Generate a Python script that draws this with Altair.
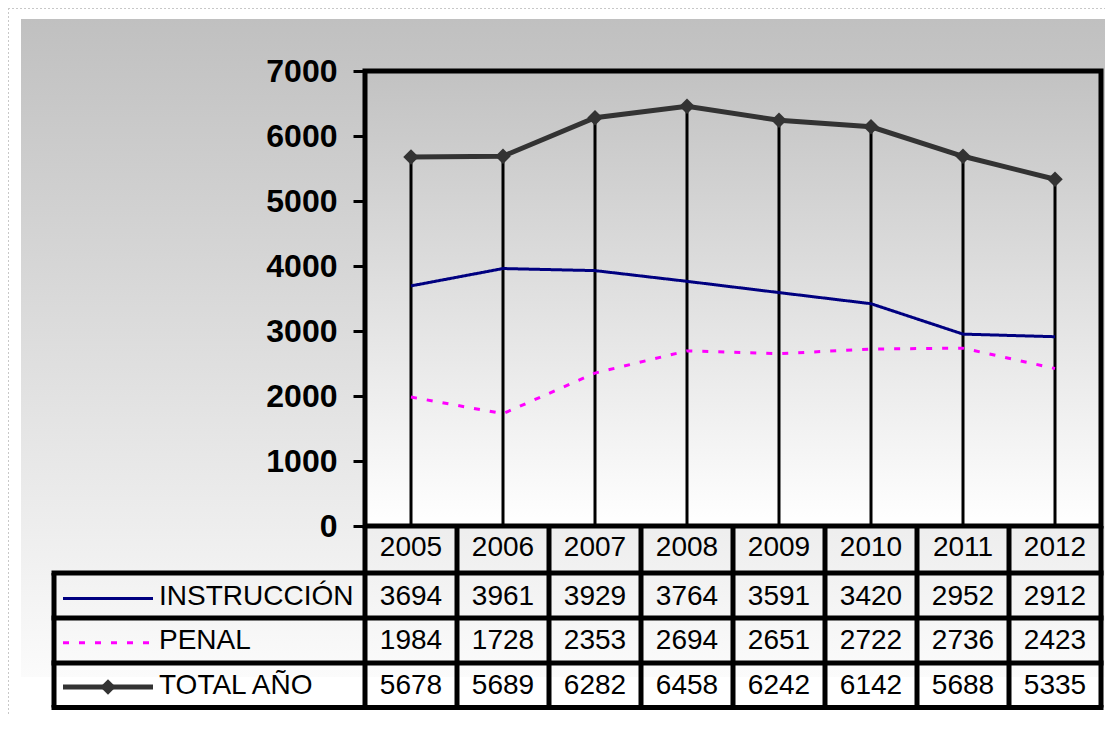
import altair as alt
import pandas as pd

# ---- data ----
years = ["2005", "2006", "2007", "2008", "2009", "2010", "2011", "2012"]
series_names = ["INSTRUCCIÓN", "PENAL", "TOTAL AÑO"]
instruccion = [3694, 3961, 3929, 3764, 3591, 3420, 2952, 2912]
penal = [1984, 1728, 2353, 2694, 2651, 2722, 2736, 2423]
total = [5678, 5689, 6282, 6458, 6242, 6142, 5688, 5335]
y_ticks = [0, 1000, 2000, 3000, 4000, 5000, 6000, 7000]

values_by_series = {"INSTRUCCIÓN": instruccion, "PENAL": penal, "TOTAL AÑO": total}
long_df = pd.DataFrame(
    [{"year": y, "series": s, "value": v}
     for s in series_names for y, v in zip(years, values_by_series[s])]
)
total_df = long_df[long_df.series == "TOTAL AÑO"]
thin_df = long_df[long_df.series != "TOTAL AÑO"]
years_df = pd.DataFrame({"year": years})
series_df = pd.DataFrame({"series": series_names})
dummy = pd.DataFrame({"a": [0]})

# ---- style ----
W, H = 736, 455
FONT = "Liberation Sans"
NAVY, MAGENTA, DARK = "#000080", "#ff00ff", "#333333"

xs = alt.Scale(type="point", domain=years, padding=0.5)
ys = alt.Scale(domain=[0, 7000], nice=False, zero=True)
row_scale = alt.Scale(type="point", domain=series_names, range=[526, 614.5], padding=0)
color_scale = alt.Scale(domain=["INSTRUCCIÓN", "PENAL"], range=[NAVY, MAGENTA])
dash_scale = alt.Scale(domain=["INSTRUCCIÓN", "PENAL"], range=[[1, 0], [6, 10]])

X = alt.X("year:N", scale=xs, axis=None)


def grad(c0, c1):
    return alt.Gradient(
        gradient="linear",
        stops=[alt.GradientStop(color=c0, offset=0), alt.GradientStop(color=c1, offset=1)],
        x1=0, x2=0, y1=0, y2=1,
    )


# chart-area background
chart_bg = alt.Chart(dummy).mark_rect(fill=grad("#c0c0c0", "#fbfbfb")).encode(
    x=alt.value(-344), x2=alt.value(740), y=alt.value(-52), y2=alt.value(606)
)
frame_left = alt.Chart(dummy).mark_rule(color="#c8c8c8", strokeWidth=1, strokeDash=[2, 2]).encode(
    x=alt.value(-356.5), y=alt.value(-63), y2=alt.value(660)
)
frame_top = alt.Chart(dummy).mark_rule(color="#c8c8c8", strokeWidth=1, strokeDash=[2, 2]).encode(
    x=alt.value(-357), x2=alt.value(740), y=alt.value(-62.5)
)

# plot-area background with border
plot_bg = alt.Chart(dummy).mark_rect(
    fill=grad("#c2c2c2", "#ffffff"), stroke="black", strokeWidth=5
).encode(x=alt.value(0), x2=alt.value(W), y=alt.value(0), y2=alt.value(H))

# drop lines
drops = alt.Chart(total_df).mark_rule(color="black", strokeWidth=3).encode(
    x=X,
    y=alt.Y("value:Q", scale=ys, axis=None),
    y2=alt.datum(0),
)

# series lines
thin_lines = alt.Chart(thin_df).mark_line(strokeWidth=3).encode(
    x=X,
    y=alt.Y("value:Q", scale=ys, axis=None),
    color=alt.Color("series:N", scale=color_scale, legend=None),
    strokeDash=alt.StrokeDash("series:N", scale=dash_scale, legend=None),
)
total_line = alt.Chart(total_df).mark_line(strokeWidth=5, color=DARK).encode(
    x=X,
    y=alt.Y(
        "value:Q", scale=ys,
        axis=alt.Axis(values=y_ticks, format="d", title=None, domain=False, grid=False,
                      labelFont=FONT, labelFontSize=32, labelFontWeight="bold",
                      labelColor="black", labelPadding=16, labelFlush=False,
                      tickColor="black", tickWidth=3, tickSize=12, labelOverlap=False,
                      zindex=2),
    ),
)
total_pts = alt.Chart(total_df).mark_point(
    shape="diamond", filled=True, size=240, color=DARK, opacity=1
).encode(x=X, y=alt.Y("value:Q", scale=ys, axis=None))

# ---- table ----
layers_grid = []
vgrid = alt.Chart(years_df).mark_rule(color="black", strokeWidth=5, xOffset=-46).encode(
    x=X, y=alt.value(H), y2=alt.value(636.5)
)
vgrid_right = alt.Chart(years_df[years_df.year == years[-1]]).mark_rule(
    color="black", strokeWidth=5, xOffset=46
).encode(x=X, y=alt.value(H), y2=alt.value(636.5))
legend_left = alt.Chart(dummy).mark_rule(color="black", strokeWidth=5).encode(
    x=alt.value(-311), y=alt.value(502), y2=alt.value(636.5)
)
for yy in [502, 547, 592, 636.5]:
    layers_grid.append(
        alt.Chart(dummy).mark_rule(color="black", strokeWidth=5).encode(
            x=alt.value(-313.5), x2=alt.value(W + 2.5), y=alt.value(yy)
        )
    )

header_txt = alt.Chart(years_df).mark_text(
    font=FONT, fontSize=28, color="black", baseline="middle", align="center"
).encode(x=X, y=alt.value(477), text="year:N")

value_txt = alt.Chart(long_df).mark_text(
    font=FONT, fontSize=28, color="black", baseline="middle", align="center"
).encode(
    x=X,
    y=alt.Y("series:N", scale=row_scale, axis=None),
    text=alt.Text("value:Q", format="d"),
)

legend_txt = alt.Chart(series_df).mark_text(
    font=FONT, fontSize=28, color="black", baseline="middle", align="left"
).encode(
    x=alt.value(-206),
    y=alt.Y("series:N", scale=row_scale, axis=None),
    text="series:N",
)

legend_thin = alt.Chart(series_df[series_df.series != "TOTAL AÑO"]).mark_rule(
    strokeWidth=3, yOffset=1.5
).encode(
    x=alt.value(-302), x2=alt.value(-212),
    y=alt.Y("series:N", scale=row_scale, axis=None),
    color=alt.Color("series:N", scale=color_scale, legend=None),
    strokeDash=alt.StrokeDash("series:N", scale=dash_scale, legend=None),
)
legend_total = alt.Chart(series_df[series_df.series == "TOTAL AÑO"]).mark_rule(
    strokeWidth=5, color=DARK, yOffset=1.5
).encode(
    x=alt.value(-302), x2=alt.value(-212),
    y=alt.Y("series:N", scale=row_scale, axis=None),
)
legend_diamond = alt.Chart(series_df[series_df.series == "TOTAL AÑO"]).mark_point(
    shape="diamond", filled=True, size=240, color=DARK, opacity=1, yOffset=1.5
).encode(
    x=alt.value(-257),
    y=alt.Y("series:N", scale=row_scale, axis=None),
)

chart = alt.layer(
    chart_bg, frame_left, frame_top, plot_bg,
    vgrid, vgrid_right, legend_left, *layers_grid,
    drops, thin_lines, total_line, total_pts,
    header_txt, value_txt, legend_txt, legend_thin, legend_total, legend_diamond,
).resolve_scale(y="independent").properties(
    width=W, height=H,
    autosize=alt.AutoSizeParams(type="none"),
    padding={"left": 357, "top": 63, "right": 4, "bottom": 190},
).configure_view(strokeWidth=0).configure(background="white")

chart.save("out.html", embed_options={"renderer": "svg", "actions": False})
